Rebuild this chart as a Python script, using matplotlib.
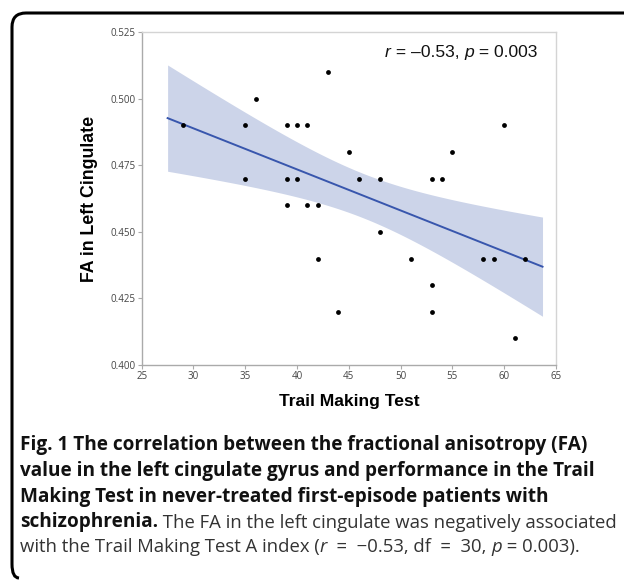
"""Scatter of FA in left cingulate vs Trail Making Test with linear fit."""

import numpy as np
import matplotlib as mpl
import matplotlib.pyplot as plt
from matplotlib.path import Path
from matplotlib.patches import PathPatch

mpl.rcParams['font.family'] = ['Open Sans', 'DejaVu Sans']

# Trail Making Test score and FA value for each patient.
tmt = [29, 35, 36, 35, 39, 40, 41, 43, 45, 39, 40, 46, 39, 41, 42,
       42, 44, 48, 53, 54, 55, 60, 48, 51, 58, 59, 62, 53, 53, 61]
fa = [0.49, 0.49, 0.50, 0.47, 0.49, 0.49, 0.49, 0.51, 0.48, 0.47,
      0.47, 0.47, 0.46, 0.46, 0.46, 0.44, 0.42, 0.47, 0.47, 0.47,
      0.48, 0.49, 0.45, 0.44, 0.44, 0.44, 0.44, 0.43, 0.42, 0.41]

x_ticks = [25, 30, 35, 40, 45, 50, 55, 60, 65]
y_ticks = [0.400, 0.425, 0.450, 0.475, 0.500, 0.525]
fit_span = [27.5, 63.7]
t_crit = 2.048  # t(0.975, n - 2)

stat_text = [('r', 'italic'), (' = \u20130.53, ', 'normal'),
             ('p', 'italic'), (' = 0.003', 'normal')]
caption_bold = [
    'Fig. 1 The correlation between the fractional anisotropy (FA)',
    'value in the left cingulate gyrus and performance in the Trail',
    'Making Test in never-treated first-episode patients with',
]
caption_mixed = [('schizophrenia.', 'bold'),
                 (' The FA in the left cingulate was negatively associated',
                  'normal')]
caption_last = [('with the Trail Making Test A index (', 'normal'),
                ('r', 'italic'), ('  =  \u22120.53, df  =  30, ', 'normal'),
                ('p', 'italic'), (' = 0.003).', 'normal')]


def chain(ax, x, y, pieces, **kw):
    """Write text pieces one after another, starting at figure coords."""
    style = dict(kw)
    bold_size = style.pop('bold_size', None)
    prev = None
    for s, kind in pieces:
        opts = dict(style)
        if kind == 'italic':
            opts['fontstyle'] = 'italic'
        elif kind == 'bold':
            opts['fontweight'] = 'bold'
            opts['color'] = '#111111'
            if bold_size:
                opts['fontsize'] = bold_size
        if prev is None:
            prev = ax.annotate(s, xy=(x, y), xycoords='figure fraction',
                               ha='left', va='baseline',
                               annotation_clip=False, **opts)
        else:
            prev = ax.annotate(s, xy=(1, 0), xycoords=prev,
                               ha='left', va='bottom',
                               annotation_clip=False, **opts)
    return prev


x = np.array(tmt)
y = np.array(fa)
n = len(x)
slope, icept = np.polyfit(x, y, 1)
resid = y - (slope * x + icept)
s = np.sqrt(np.sum(resid ** 2) / (n - 2))
sxx = np.sum((x - x.mean()) ** 2)
xs = np.linspace(fit_span[0], fit_span[1], 200)
ys = slope * xs + icept
half = t_crit * s * np.sqrt(1 / n + (xs - x.mean()) ** 2 / sxx)

fig = plt.figure(figsize=(6.24, 5.80), dpi=100, facecolor='white')
ax = fig.add_axes([0.2271, 0.3707, 0.6639, 0.5736])

ax.fill_between(xs, ys - half, ys + half, color='#ccd4e9', lw=0, zorder=1)
ax.plot(xs, ys, color='#3856ad', lw=1.4, zorder=2)
ax.scatter(x, y, s=12, color='black', zorder=3, lw=0)

ax.set_xlim(25, 65)
ax.set_ylim(0.400, 0.525)
ax.set_xticks(x_ticks)
ax.set_yticks(y_ticks)
ax.set_yticklabels([f'{v:.3f}' for v in y_ticks])
ax.tick_params(labelsize=7, labelcolor='#444444', color='#aaaaaa',
               length=3, width=0.8, pad=1.5)
for side in ['left', 'bottom']:
    ax.spines[side].set_color('#aaaaaa')
for side in ['top', 'right']:
    ax.spines[side].set_color('#d4d4d4')
for sp in ax.spines.values():
    sp.set_linewidth(1.0)

ax.set_xlabel('Trail Making Test', family='Liberation Sans',
              fontweight='bold', fontsize=12.6, va='center')
ax.xaxis.set_label_coords(0.5, -0.111)
ax.set_ylabel('FA in Left Cingulate', family='Liberation Sans',
              fontweight='bold', fontsize=12.8, va='center')
ax.yaxis.set_label_coords(-0.125, 0.5)

chain(ax, 0.617, 0.901, stat_text, family='Liberation Sans', fontsize=12.6,
      color='#111111')

# Caption below the chart.
line_y = [0.2241, 0.1793, 0.1345, 0.0914, 0.0483]
for yy, line in zip(line_y, caption_bold):
    fig.text(0.032, yy, line, fontsize=13.7, fontweight='bold',
             color='#111111', va='baseline')
chain(ax, 0.032, line_y[3], caption_mixed, fontsize=13.3, color='#333333',
      bold_size=13.7)
chain(ax, 0.032, line_y[4], caption_last, fontsize=13.3, color='#333333')

# Rounded frame along the top and left.
W, H = 624, 580
r = 14
x0, y0 = 12 / W, 1 - 13 / H
yb = 1 - 578 / H
rx, ry = r / W, r / H
verts = [(1.0, y0), (x0 + rx, y0), (x0, y0), (x0, y0 - ry),
         (x0, yb + ry), (x0, yb), (x0 + rx * 0.5, yb)]
codes = [Path.MOVETO, Path.LINETO, Path.CURVE3, Path.CURVE3,
         Path.LINETO, Path.CURVE3, Path.CURVE3]
fig.add_artist(PathPatch(Path(verts, codes), transform=fig.transFigure,
                         fill=False, lw=2.2, color='black',
                         capstyle='butt'))

fig.savefig('out.png', dpi=100, facecolor='white')
